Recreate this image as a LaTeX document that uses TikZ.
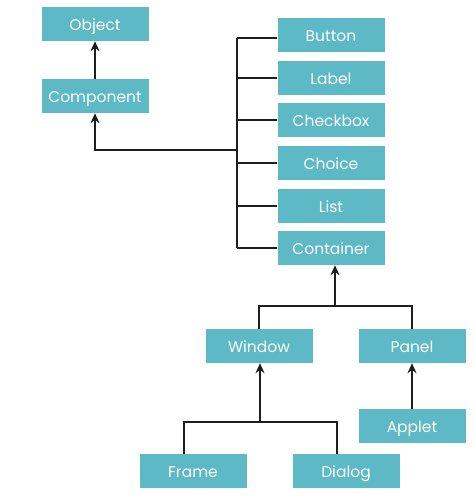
\documentclass[tikz,border=0pt]{standalone}
\usepackage{fontspec}
\setmainfont{Poppins}
\usetikzlibrary{arrows.meta}
\definecolor{boxc}{RGB}{93,185,198}
\definecolor{linec}{RGB}{30,30,30}
\begin{document}
\begin{tikzpicture}[x=1pt,y=-1pt,
  cls/.style={fill=boxc,draw=none,minimum width=107pt,minimum height=34pt,inner sep=0pt,
    text height=13pt,text depth=0pt,
    text=white,font=\fontsize{15.5}{17}\selectfont},
  conn/.style={draw=linec,line width=2pt},
  inh/.style={conn,-{Stealth[width=9pt,length=10pt]}}]
\useasboundingbox (0,0) rectangle (474,500);
\node[cls] (object) at (95,24) {Object};
\node[cls] (component) at (95,96) {Component};
\node[cls] (button) at (331,35) {Button};
\node[cls] (label) at (331,78) {Label};
\node[cls] (checkbox) at (331,120) {Checkbox};
\node[cls] (choice) at (331,163) {Choice};
\node[cls] (list) at (331,206) {List};
\node[cls] (container) at (331,248) {Container};
\node[cls] (window) at (259,346) {Window};
\node[cls] (panel) at (412,346) {Panel};
\node[cls] (applet) at (412,426) {Applet};
\node[cls] (frame) at (193,471) {Frame};
\node[cls] (dialog) at (346,471) {Dialog};
% component -> object
\draw[inh] (component.north) -- (object.south);
% bus
\coordinate (bt) at (237,38);
\coordinate (bb) at (237,248);
\coordinate (cj) at (237,150);
\draw[conn] (bt) -- (bb);
\draw[conn] (button.west |- bt) -- (bt);
\foreach \n in {label,checkbox,choice,list,container}
  \draw[conn] (\n.west) -- (\n.west -| bt);
\draw[inh] (cj) -| (component.south);
% container subtree
\coordinate (cs) at (335,306);
\draw[inh] (cs) -- (cs |- container.south);
\draw[conn] (window.north) |- (cs) -| (panel.north);
% window subtree
\coordinate (ws) at (260,422);
\draw[inh] (ws) -- (ws |- window.south);
\draw[conn] (frame.north -| 184,0) |- (ws) -| (dialog.north -| 337,0);
% applet -> panel
\draw[inh] (applet.north) -- (panel.south);
\end{tikzpicture}
\end{document}
